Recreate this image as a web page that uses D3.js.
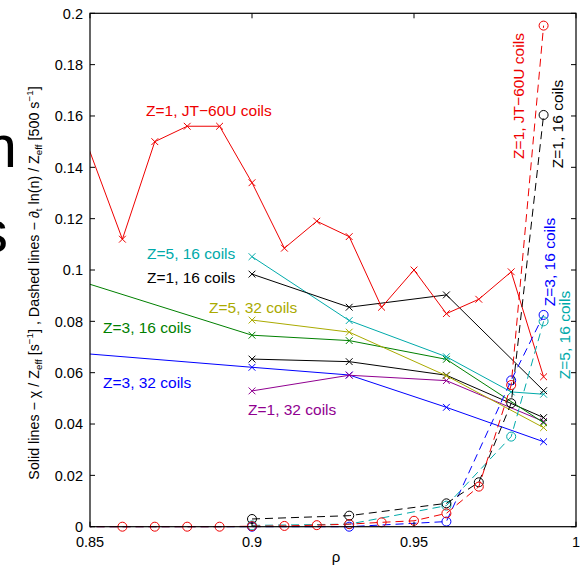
<!DOCTYPE html>
<html>
<head>
<meta charset="utf-8">
<script src="https://cdn.jsdelivr.net/npm/d3@7"></script>
<style>
  body { margin: 0; background: #fff; }
  svg { display: block; }
  text { font-family: "Liberation Sans", Arial, Helvetica, sans-serif; }
</style>
</head>
<body>
<svg id="chart" width="587" height="568"></svg>
<script>
// ---- axis ticks ----
const xTickValues = [0.85, 0.9, 0.95, 1];
const xTickLabels = ["0.85", "0.9", "0.95", "1"];
const yTickValues = [0, 0.02, 0.04, 0.06, 0.08, 0.1, 0.12, 0.14, 0.16, 0.18, 0.2];
const yTickLabels = ["0", "0.02", "0.04", "0.06", "0.08", "0.1", "0.12", "0.14", "0.16", "0.18", "0.2"];

// ---- solid lines: chi / Zeff [1/s] (x markers) ----
const rhoJT60U = [0.84, 0.86, 0.87, 0.88, 0.89, 0.90, 0.91, 0.92, 0.93, 0.94, 0.95, 0.96, 0.97, 0.98, 0.99];
const chiJT60U = [0.180, 0.112, 0.150, 0.156, 0.156, 0.134, 0.1085, 0.119, 0.113, 0.0855, 0.100, 0.083, 0.0886, 0.0993, 0.0584];

const rhoZ1c16 = [0.90, 0.93, 0.96, 0.99];
const chiZ1c16 = [0.0984, 0.0855, 0.0903, 0.053];

const rhoZ5c16 = [0.90, 0.93, 0.96, 0.98, 0.99];
const chiZ5c16 = [0.1052, 0.0803, 0.0662, 0.0525, 0.0516];

const rhoZ3c16 = [0.84, 0.90, 0.93, 0.96, 0.99];
const chiZ3c16 = [0.0984, 0.0746, 0.0725, 0.0652, 0.0405];

const rhoZ5c32 = [0.90, 0.93, 0.96, 0.99];
const chiZ5c32 = [0.0805, 0.0758, 0.0588, 0.0386];

const rhoBlack32 = [0.90, 0.93, 0.96, 0.99];
const chiBlack32 = [0.0653, 0.0643, 0.059, 0.0425];

const rhoZ3c32 = [0.84, 0.90, 0.93, 0.96, 0.99];
const chiZ3c32 = [0.0683, 0.0621, 0.0591, 0.0465, 0.0331];

const rhoZ1c32 = [0.90, 0.93, 0.96, 0.99];
const chiZ1c32 = [0.0529, 0.059, 0.0569, 0.041];

// ---- dashed lines: -d/dt ln(n) / Zeff [500/s] (circle markers) ----
const dnJT60U = [0, 0, 0, 0, 0, 0.0002, 0.0003, 0.0006, 0.001, 0.0017, 0.0023, 0.0052, 0.0156, 0.0552, 0.1952];

const rhoDnZ1c16 = [0.90, 0.93, 0.96, 0.97, 0.98, 0.99];
const dnZ1c16 = [0.003, 0.0043, 0.0091, 0.0173, 0.0481, 0.1604];

const rhoDnZ5c16 = [0.90, 0.93, 0.96, 0.98, 0.99];
const dnZ5c16 = [0.0005, 0.001, 0.0082, 0.0351, 0.080];

const rhoDnZ3c16 = [0.84, 0.90, 0.93, 0.96, 0.98, 0.99];
const dnZ3c16 = [0, 0, 0, 0.002, 0.057, 0.0825];

// ---- series table ----
const zip = (xs, ys) => xs.map((x, i) => ({ x, y: ys[i] }));
const solidSeries = [
  { color: "#0000ff", data: zip(rhoZ3c32, chiZ3c32) },
  { color: "#900090", data: zip(rhoZ1c32, chiZ1c32) },
  { color: "#000000", data: zip(rhoBlack32, chiBlack32) },
  { color: "#008000", data: zip(rhoZ3c16, chiZ3c16) },
  { color: "#aaaa00", data: zip(rhoZ5c32, chiZ5c32) },
  { color: "#00aaaa", data: zip(rhoZ5c16, chiZ5c16) },
  { color: "#000000", data: zip(rhoZ1c16, chiZ1c16) },
  { color: "#ee0000", data: zip(rhoJT60U, chiJT60U) }
];
const dashedSeries = [
  { color: "#0000ff", data: zip(rhoDnZ3c16, dnZ3c16) },
  { color: "#00aaaa", data: zip(rhoDnZ5c16, dnZ5c16) },
  { color: "#000000", data: zip(rhoDnZ1c16, dnZ1c16) },
  { color: "#ee0000", data: zip(rhoJT60U, dnJT60U) }
];

// ---- layout ----
const svg = d3.select("#chart");
const L = 90, R = 576, T = 13.3, B = 526.7;
const x = d3.scaleLinear().domain([0.85, 1]).range([L, R]);
const y = d3.scaleLinear().domain([0, 0.2]).range([B, T]);

svg.append("defs").append("clipPath").attr("id", "plotClip")
  .append("rect").attr("x", L).attr("y", T - 6).attr("width", R - L).attr("height", B - T + 12);

const plot = svg.append("g").attr("clip-path", "url(#plotClip)");
const line = d3.line().x(d => x(d.x)).y(d => y(d.y));
const inDomain = d => d.x >= 0.85 - 1e-9 && d.x <= 1 + 1e-9;

// solid lines with x markers
solidSeries.forEach(s => {
  plot.append("path").attr("d", line(s.data))
    .attr("fill", "none").attr("stroke", s.color).attr("stroke-width", 1);
  const m = 3.4;
  plot.selectAll(null).data(s.data.filter(inDomain)).enter().append("path")
    .attr("d", d => `M${x(d.x) - m},${y(d.y) - m}L${x(d.x) + m},${y(d.y) + m}M${x(d.x) - m},${y(d.y) + m}L${x(d.x) + m},${y(d.y) - m}`)
    .attr("stroke", s.color).attr("stroke-width", 1).attr("fill", "none");
});

// dashed lines with circle markers
dashedSeries.forEach(s => {
  plot.append("path").attr("d", line(s.data))
    .attr("fill", "none").attr("stroke", s.color).attr("stroke-width", 1)
    .attr("stroke-dasharray", "8,5");
  plot.selectAll(null).data(s.data.filter(inDomain)).enter().append("circle")
    .attr("cx", d => x(d.x)).attr("cy", d => y(d.y)).attr("r", 4.5)
    .attr("fill", "none").attr("stroke", s.color).attr("stroke-width", 1);
});

// ---- frame and ticks (inward, mirrored) ----
const frame = svg.append("g").attr("stroke", "#000").attr("fill", "none");
frame.append("rect").attr("x", L).attr("y", T).attr("width", R - L).attr("height", B - T).attr("stroke-width", 1.2);
const tl = 5;
xTickValues.forEach(v => {
  frame.append("line").attr("x1", x(v)).attr("x2", x(v)).attr("y1", B).attr("y2", B - tl);
  frame.append("line").attr("x1", x(v)).attr("x2", x(v)).attr("y1", T).attr("y2", T + tl);
});
yTickValues.forEach(v => {
  frame.append("line").attr("x1", L).attr("x2", L + tl).attr("y1", y(v)).attr("y2", y(v));
  frame.append("line").attr("x1", R).attr("x2", R - tl).attr("y1", y(v)).attr("y2", y(v));
});

const fs = 14.5;
svg.append("g").selectAll("text").data(xTickValues).enter().append("text")
  .attr("x", d => x(d)).attr("y", 547).attr("text-anchor", "middle")
  .attr("font-size", fs).text((d, i) => xTickLabels[i]);
svg.append("g").selectAll("text").data(yTickValues).enter().append("text")
  .attr("x", 83).attr("y", d => y(d) + 5.2).attr("text-anchor", "end")
  .attr("font-size", fs).text((d, i) => yTickLabels[i]);

// x label
svg.append("text").attr("x", 336).attr("y", 562).attr("text-anchor", "middle")
  .attr("font-size", 15).text("ρ");

// y label with sub/superscripts
const yl = svg.append("text").attr("transform", "translate(38.5,283) rotate(-90)")
  .attr("text-anchor", "middle").attr("font-size", 14.3);
const parts = [
  ["Solid lines − χ / Z", 0], ["eff", 1], [" [s", 0], ["−1", -1], ["] , Dashed lines − ∂", 0],
  ["t", 1], [" ln(n) / Z", 0], ["eff", 1], [" [500 s", 0], ["−1", -1], ["]", 0]
];
let prev = 0;
parts.forEach(([t, k]) => {
  const shift = k === 1 ? 3.8 : k === -1 ? -5.5 : 0;
  yl.append("tspan").attr("dy", shift - prev).attr("font-size", k === 0 ? 14.3 : 9.8).text(t);
  prev = shift;
});

// ---- series labels ----
const lfs = 15.5;
const labels = [
  { t: "Z=1, JT−60U coils", c: "#ee0000", x: 146, y: 115.5 },
  { t: "Z=5, 16 coils", c: "#00aaaa", x: 147, y: 258.5 },
  { t: "Z=1, 16 coils", c: "#000000", x: 147, y: 282.5 },
  { t: "Z=5, 32 coils", c: "#aaaa00", x: 209, y: 312.5 },
  { t: "Z=3, 16 coils", c: "#008000", x: 103, y: 332.5 },
  { t: "Z=3, 32 coils", c: "#0000ff", x: 103, y: 387.5 },
  { t: "Z=1, 32 coils", c: "#900090", x: 248, y: 414.5 }
];
labels.forEach(l => svg.append("text").attr("x", l.x).attr("y", l.y)
  .attr("fill", l.c).attr("font-size", lfs).text(l.t));

const vlabels = [
  { t: "Z=1, JT−60U coils", c: "#ee0000", x: 524, y: 96 },
  { t: "Z=1, 16 coils", c: "#000000", x: 563, y: 124 },
  { t: "Z=3, 16 coils", c: "#0000ff", x: 554.5, y: 262 },
  { t: "Z=5, 16 coils", c: "#00aaaa", x: 570, y: 335 }
];
vlabels.forEach(l => svg.append("text").attr("transform", `translate(${l.x},${l.y}) rotate(-90)`)
  .attr("text-anchor", "middle").attr("fill", l.c).attr("font-size", lfs).text(l.t));

// large glyphs cut by the left edge
svg.append("text").attr("x", 17).attr("y", 167).attr("text-anchor", "end")
  .attr("font-size", 60).text("m");
svg.append("text").attr("x", 8).attr("y", 252).attr("text-anchor", "end")
  .attr("font-size", 60).text("s");
</script>
</body>
</html>
